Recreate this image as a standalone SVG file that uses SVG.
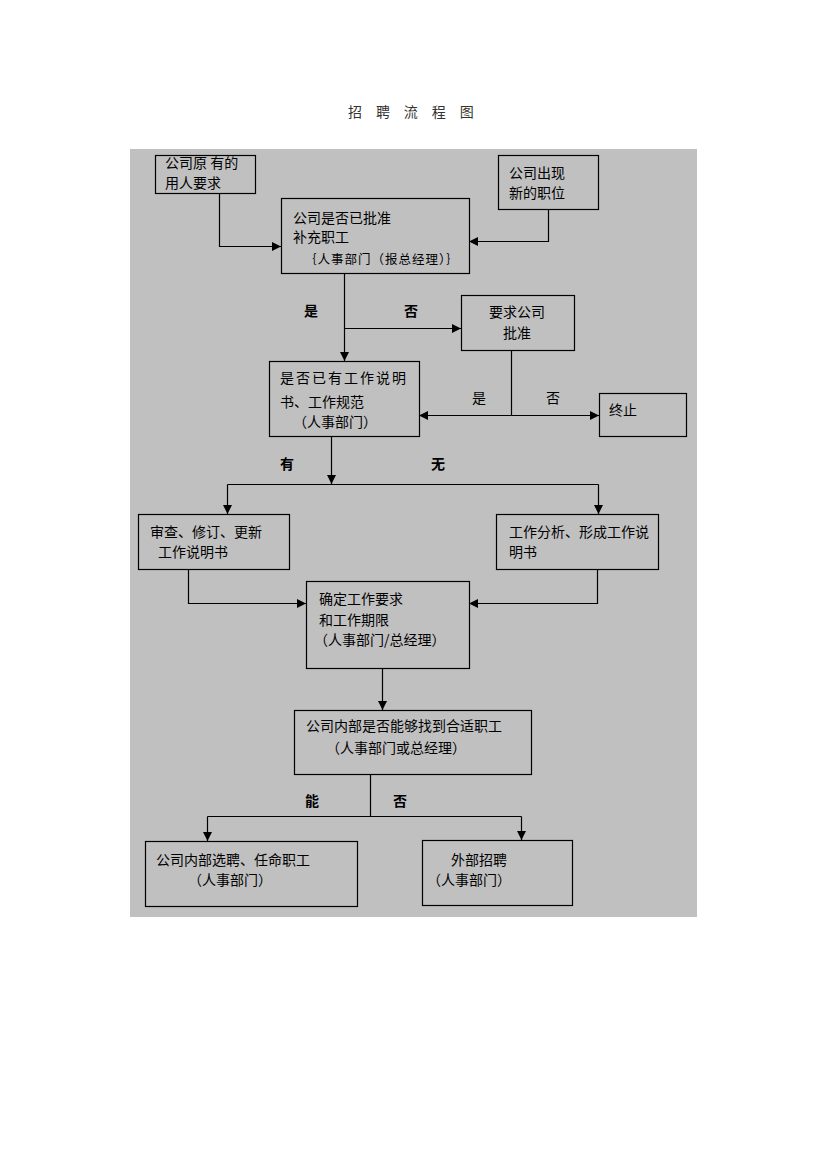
<svg xmlns="http://www.w3.org/2000/svg" width="827" height="1169" viewBox="0 0 827 1169">
<style>
text{font-family:"Noto Sans CJK SC","Liberation Sans",sans-serif;font-size:14px;fill:#000}
.b{font-weight:bold}
.s{font-size:12.5px;letter-spacing:1px}
.title{fill:#333;letter-spacing:5.4px}
.box{fill:none;stroke:#000;stroke-width:1.2}
.ln{fill:none;stroke:#000;stroke-width:1.2}
</style>
<defs>
<marker id="ah" viewBox="0 0 10 10" markerUnits="userSpaceOnUse" markerWidth="10" markerHeight="9" refX="10" refY="5" orient="auto">
<path d="M0,0 L10,5 L0,10 z" fill="#000"/>
</marker>
</defs>
<rect x="0" y="0" width="827" height="1169" fill="#fff"/>
<text class="title" x="348" y="117">招 聘 流 程 图</text>
<rect x="130" y="149" width="567" height="768" fill="#c0c0c0"/>

<g id="connectors">
<path class="ln" d="M219.5,193 V246.5 H281" marker-end="url(#ah)"/>
<path class="ln" d="M548.5,209 V241.5 H469" marker-end="url(#ah)"/>
<path class="ln" d="M344.5,273 V361" marker-end="url(#ah)"/>
<path class="ln" d="M344.5,328.5 H461" marker-end="url(#ah)"/>
<path class="ln" d="M511.5,350 V415.5"/>
<path class="ln" d="M511.5,415.5 H419" marker-end="url(#ah)"/>
<path class="ln" d="M511.5,415.5 H599" marker-end="url(#ah)"/>
<path class="ln" d="M331.5,436 V484" marker-end="url(#ah)"/>
<path class="ln" d="M227.5,484.5 H598.5"/>
<path class="ln" d="M227.5,484.5 V514" marker-end="url(#ah)"/>
<path class="ln" d="M598.5,484.5 V514" marker-end="url(#ah)"/>
<path class="ln" d="M188.5,569 V603.5 H306" marker-end="url(#ah)"/>
<path class="ln" d="M597.5,569 V603.5 H469" marker-end="url(#ah)"/>
<path class="ln" d="M382.5,668 V710" marker-end="url(#ah)"/>
<path class="ln" d="M370.5,774 V816.5"/>
<path class="ln" d="M207.5,816.5 H521.5"/>
<path class="ln" d="M207.5,816.5 V841" marker-end="url(#ah)"/>
<path class="ln" d="M521.5,816.5 V840" marker-end="url(#ah)"/>
<text class="b" x="304" y="316">是</text>
<text class="b" x="404" y="316">否</text>
<text x="472" y="403">是</text>
<text x="546" y="403">否</text>
<text class="b" x="280" y="469">有</text>
<text class="b" x="431" y="469">无</text>
<text class="b" x="305" y="806">能</text>
<text class="b" x="393" y="806">否</text>
</g>

<g id="n1">
<rect class="box" x="155.5" y="155.5" width="100" height="38"/>
<text x="165" y="168">公司原 有的</text>
<text x="165" y="188">用人要求</text>
</g>
<g id="n2">
<rect class="box" x="281.5" y="198.5" width="188" height="75"/>
<text x="293" y="223">公司是否已批准</text>
<text x="293" y="242">补充职工</text>
<text class="s" x="304" y="264">｛人事部门（报总经理）｝</text>
</g>
<g id="n3">
<rect class="box" x="498.5" y="155.5" width="100" height="54"/>
<text x="509" y="178">公司出现</text>
<text x="509" y="198">新的职位</text>
</g>
<g id="n5">
<rect class="box" x="461.5" y="295.5" width="113" height="55"/>
<text x="489" y="317">要求公司</text>
<text x="503" y="338">批准</text>
</g>
<g id="n4">
<rect class="box" x="269.5" y="361.5" width="150" height="75"/>
<text x="280" y="383" style="letter-spacing:2px">是否已有工作说明</text>
<text x="280" y="407">书、工作规范</text>
<text x="293" y="427">（人事部门）</text>
</g>
<g id="n6">
<rect class="box" x="599.5" y="393.5" width="87" height="43"/>
<text x="609" y="415">终止</text>
</g>
<g id="n7">
<rect class="box" x="138.5" y="514.5" width="151" height="55"/>
<text x="150" y="537">审查、修订、更新</text>
<text x="158" y="557">工作说明书</text>
</g>
<g id="n8">
<rect class="box" x="496.5" y="514.5" width="162" height="55"/>
<text x="509" y="537">工作分析、形成工作说</text>
<text x="509" y="557">明书</text>
</g>
<g id="n9">
<rect class="box" x="306.5" y="581.5" width="163" height="87"/>
<text x="319" y="604">确定工作要求</text>
<text x="319" y="625">和工作期限</text>
<text x="314" y="645">（人事部门/总经理）</text>
</g>
<g id="n10">
<rect class="box" x="294.5" y="710.5" width="237" height="64"/>
<text x="306" y="731">公司内部是否能够找到合适职工</text>
<text x="326" y="753">（人事部门或总经理）</text>
</g>
<g id="n11">
<rect class="box" x="145.5" y="841.5" width="212" height="65"/>
<text x="156" y="865">公司内部选聘、任命职工</text>
<text x="188" y="885">（人事部门）</text>
</g>
<g id="n12">
<rect class="box" x="422.5" y="840.5" width="150" height="65"/>
<text x="451" y="865">外部招聘</text>
<text x="427" y="885">（人事部门）</text>
</g>
</svg>
